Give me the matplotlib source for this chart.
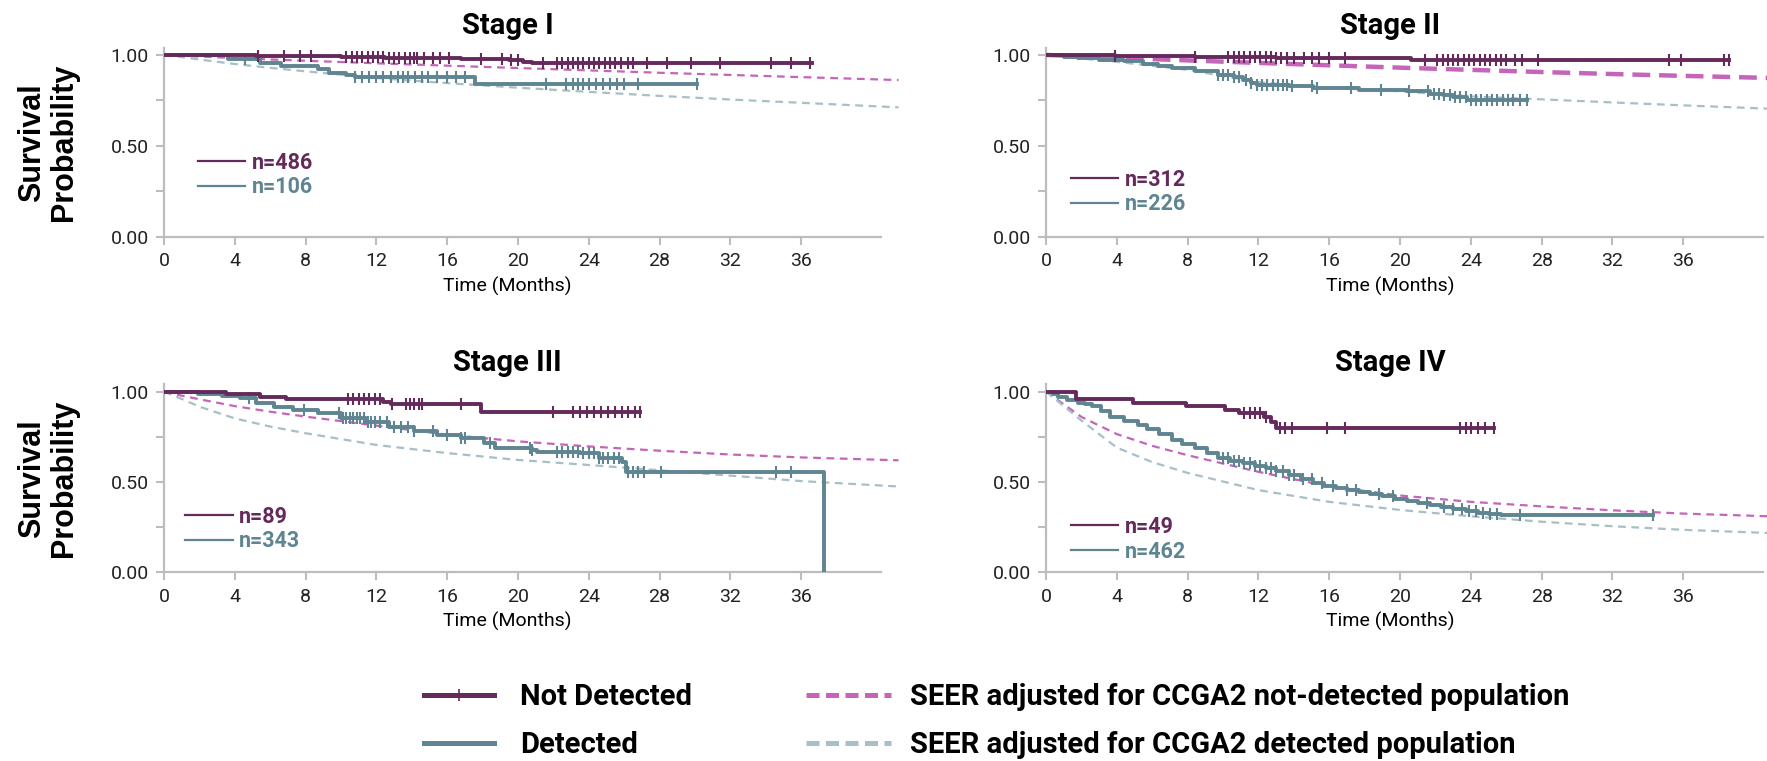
import numpy as np
import matplotlib
matplotlib.use("Agg")
import matplotlib.pyplot as plt
from matplotlib.lines import Line2D

plt.rcParams['font.family'] = ['Roboto', 'DejaVu Sans']

# colours
c_nd = '#652a5c'
c_d = '#5e8591'
c_seer_nd = '#c565b9'
c_seer_d = '#a7bfc6'

titles = ['Stage I', 'Stage II', 'Stage III', 'Stage IV']
n_labels = [['n=486', 'n=106'], ['n=312', 'n=226'], ['n=89', 'n=343'], ['n=49', 'n=462']]

# --- Kaplan-Meier step data (months, survival) ---
t_nd1 = [0, 5.2, 8.0, 10.0, 12.5, 16.8, 17.5, 19.5, 20.3, 20.8, 36.6]
s_nd1 = [1.0, 0.996, 0.993, 0.989, 0.985, 0.98, 0.975, 0.97, 0.963, 0.957, 0.957]
cens_nd1 = [5.3, 6.8, 7.7, 8.3, 10.3, 10.6, 10.9, 11.2, 11.5, 11.8, 12.1, 12.4, 12.7, 13.0,
            13.3, 13.6, 13.9, 14.1, 14.3, 14.7, 15.2, 15.6, 16.1, 17.9, 19.1, 19.6, 20.0, 21.4,
            22.2, 22.5, 22.8, 23.1, 23.4, 23.7, 24.0, 24.3, 24.6, 24.9, 25.2, 25.5, 25.8, 26.2,
            26.5, 27.3, 28.4, 29.8, 31.4, 34.3, 35.4, 36.5]
t_d1 = [0, 3.6, 5.4, 6.6, 8.7, 9.3, 10.3, 10.8, 17.6, 30.1]
s_d1 = [1.0, 0.976, 0.955, 0.94, 0.922, 0.903, 0.89, 0.876, 0.84, 0.84]
cens_d1 = [4.6, 10.8, 11.2, 11.6, 12.0, 12.4, 12.8, 13.2, 13.5, 13.8, 14.2, 14.6, 14.9, 15.4,
           16.0, 16.5, 17.0, 21.6, 22.7, 23.1, 23.4, 23.7, 24.0, 24.4, 24.8, 25.2, 25.6, 26.0,
           26.8, 30.1]

t_nd2 = [0, 3.9, 8.4, 13.0, 20.4, 20.6, 38.6]
s_nd2 = [1.0, 0.995, 0.99, 0.985, 0.982, 0.97, 0.97]
cens_nd2 = [3.9, 8.4, 10.3, 10.6, 10.9, 11.2, 11.5, 11.8, 12.1, 12.4, 12.7, 13.0, 13.3, 13.6,
            14.0, 14.6, 15.0, 15.4, 16.0, 16.9, 21.4, 22.1, 22.4, 22.7, 23.0, 23.3, 23.6, 23.9,
            24.2, 24.5, 24.8, 25.1, 25.4, 25.7, 26.0, 26.5, 26.9, 27.8, 35.2, 35.9, 38.3, 38.6]
t_d2 = [0, 1.0, 1.8, 3.0, 4.4, 5.5, 6.3, 7.1, 8.4, 9.7, 10.6, 11.1, 11.6, 11.9, 13.7, 15.1,
        17.7, 20.4, 21.7, 22.4, 23.0, 23.8, 27.2]
s_d2 = [1.0, 0.99, 0.982, 0.972, 0.964, 0.952, 0.94, 0.928, 0.91, 0.89, 0.878, 0.864, 0.848,
        0.837, 0.832, 0.82, 0.81, 0.80, 0.788, 0.778, 0.768, 0.755, 0.755]
cens_d2 = [9.7, 10.0, 10.3, 10.6, 10.9, 11.3, 11.6, 11.9, 12.2, 12.5, 12.8, 13.1, 13.4, 13.6,
           13.9, 15.0, 15.3, 17.2, 18.9, 20.5, 21.6, 21.9, 22.2, 22.5, 22.8, 23.1, 23.4, 23.7,
           24.0, 24.3, 24.6, 24.9, 25.2, 25.5, 25.8, 26.1, 26.4, 26.8, 27.2]

t_nd3 = [0, 3.5, 5.4, 6.9, 12.4, 12.8, 17.9, 26.9]
s_nd3 = [1.0, 0.985, 0.972, 0.959, 0.945, 0.93, 0.889, 0.889]
cens_nd3 = [10.4, 10.7, 11.0, 11.3, 11.6, 11.9, 12.2, 12.9, 13.7, 13.9, 14.1, 14.4, 14.6, 16.8,
            22.0, 23.1, 23.5, 23.9, 24.3, 24.7, 25.1, 25.5, 25.9, 26.2, 26.6, 26.9]
t_d3 = [0, 1.9, 3.3, 4.3, 5.2, 6.2, 7.3, 8.7, 10.0, 11.4, 12.7, 14.1, 15.4, 16.8, 18.1, 18.7,
        20.8, 21.1, 23.5, 24.6, 25.9, 26.1, 37.3]
s_d3 = [1.0, 0.987, 0.978, 0.963, 0.94, 0.915, 0.898, 0.88, 0.855, 0.833, 0.806, 0.78, 0.762,
        0.742, 0.715, 0.69, 0.678, 0.668, 0.658, 0.632, 0.612, 0.556, 0.0]
cens_d3 = [4.8, 7.9, 9.9, 10.1, 10.3, 10.5, 10.7, 10.9, 11.1, 11.3, 11.5, 11.7, 11.9, 12.2, 12.6,
           13.0, 13.4, 13.8, 14.1, 15.2, 16.0, 16.8, 17.0, 18.4, 20.7, 20.8, 22.2, 22.5, 22.8,
           23.1, 23.4, 23.7, 24.0, 24.3, 24.6, 24.8, 25.1, 25.4, 25.7, 26.2, 26.5, 26.8, 27.1,
           28.1, 34.6, 35.4]

t_nd4 = [0, 1.7, 4.9, 7.9, 10.1, 10.9, 12.3, 12.7, 13.0, 25.3]
s_nd4 = [1.0, 0.96, 0.94, 0.92, 0.90, 0.88, 0.86, 0.83, 0.80, 0.80]
cens_nd4 = [11.2, 11.5, 11.8, 12.1, 12.4, 13.2, 13.5, 13.9, 15.9, 16.9, 23.4, 23.7, 24.0, 24.4,
            24.8, 25.3]
t_d4 = [0, 0.4, 0.7, 1.2, 1.8, 2.2, 2.6, 3.1, 3.6, 4.4, 5.2, 5.7, 6.4, 7.1, 7.7, 8.4, 9.1, 9.7,
        10.4, 11.1, 11.8, 12.4, 13.0, 13.7, 14.4, 15.1, 15.7, 16.4, 17.0, 17.7, 18.3, 19.0,
        19.7, 20.4, 21.0, 21.7, 22.3, 23.0, 23.7, 24.4, 25.0, 25.7, 34.3]
s_d4 = [1.0, 0.985, 0.972, 0.955, 0.94, 0.93, 0.92, 0.895, 0.86, 0.835, 0.815, 0.795, 0.765,
        0.73, 0.712, 0.688, 0.66, 0.635, 0.615, 0.603, 0.59, 0.578, 0.56, 0.54, 0.518, 0.495,
        0.48, 0.465, 0.455, 0.445, 0.432, 0.42, 0.405, 0.393, 0.383, 0.372, 0.36, 0.35, 0.338,
        0.328, 0.32, 0.315, 0.315]
cens_d4 = [10.0, 10.3, 10.6, 10.9, 11.2, 11.5, 11.8, 12.1, 12.4, 12.7, 13.0, 13.4, 13.7, 14.0,
           14.5, 15.0, 15.6, 16.2, 17.0, 17.5, 18.8, 19.6, 21.5, 22.5, 23.0, 23.5, 23.9, 24.3,
           24.7, 25.1, 25.5, 26.8, 34.3]

# --- SEER expected survival curves ---
t_seer = [0, 1, 2, 4, 6, 8, 12, 16, 20, 24, 28, 32, 36, 41.5]
seer_nd1 = [1, 0.996, 0.991, 0.983, 0.975, 0.968, 0.954, 0.941, 0.928, 0.915, 0.902, 0.89, 0.878, 0.862]
seer_d1 = [1, 0.988, 0.975, 0.95, 0.929, 0.91, 0.873, 0.845, 0.82, 0.797, 0.775, 0.755, 0.737, 0.712]
seer_nd2 = [1, 0.996, 0.992, 0.985, 0.977, 0.97, 0.956, 0.943, 0.93, 0.918, 0.906, 0.895, 0.885, 0.872]
seer_d2 = [1, 0.99, 0.98, 0.962, 0.94, 0.918, 0.85, 0.82, 0.8, 0.772, 0.756, 0.739, 0.723, 0.702]
seer_nd3 = [1, 0.978, 0.958, 0.92, 0.889, 0.862, 0.812, 0.762, 0.725, 0.697, 0.673, 0.652, 0.636, 0.62]
seer_d3 = [1, 0.96, 0.917, 0.852, 0.807, 0.77, 0.705, 0.66, 0.622, 0.594, 0.565, 0.535, 0.505, 0.475]
seer_nd4 = [1, 0.93, 0.86, 0.765, 0.70, 0.648, 0.556, 0.475, 0.425, 0.39, 0.365, 0.343, 0.325, 0.308]
seer_d4 = [1, 0.92, 0.84, 0.69, 0.61, 0.55, 0.455, 0.39, 0.345, 0.31, 0.28, 0.255, 0.235, 0.215]

stages = [
    (t_nd1, s_nd1, cens_nd1, t_d1, s_d1, cens_d1, seer_nd1, seer_d1),
    (t_nd2, s_nd2, cens_nd2, t_d2, s_d2, cens_d2, seer_nd2, seer_d2),
    (t_nd3, s_nd3, cens_nd3, t_d3, s_d3, cens_d3, seer_nd3, seer_d3),
    (t_nd4, s_nd4, cens_nd4, t_d4, s_d4, cens_d4, seer_nd4, seer_d4),
]


def surv_at(times, surv, t):
    idx = np.searchsorted(times, t, side='right') - 1
    return np.asarray(surv)[idx]


fig = plt.figure(figsize=(17.67, 7.61), dpi=100)
positions = [[0.0928, 0.6886, 0.4157, 0.2488], [0.592, 0.6886, 0.4157, 0.2488],
             [0.0928, 0.248, 0.4157, 0.2468], [0.592, 0.248, 0.4157, 0.2468]]
legend_anchor = [(0.046, 0.45), (0.034, 0.36), (0.029, 0.355), (0.034, 0.30)]
grey = '#bdbdbd'

for i, (tn, sn, cn, td, sd, cd, pn, pd_) in enumerate(stages):
    ax = fig.add_axes(positions[i])
    thick = i == 1
    ax.plot(t_seer, pn, color=c_seer_nd, lw=3.2 if thick else 1.6,
            dashes=(4, 2) if thick else (3.5, 2.5), zorder=2)
    ax.plot(t_seer, pd_, color=c_seer_d, lw=1.6, dashes=(3.5, 2.5), zorder=2)
    ax.plot(td, sd, drawstyle='steps-post', color=c_d, lw=2.8, zorder=3)
    ax.plot(cd, surv_at(td, sd, cd), ls='none', marker='|', ms=8, mew=1.5, color=c_d, zorder=3)
    ax.plot(tn, sn, drawstyle='steps-post', color=c_nd, lw=2.8, zorder=4)
    ax.plot(cn, surv_at(tn, sn, cn), ls='none', marker='|', ms=8, mew=1.5, color=c_nd, zorder=4)

    ax.set_xlim(0, 41.5)
    ax.set_ylim(0, 1.04)
    ax.set_xticks(np.arange(0, 37, 4))
    ax.set_yticks([0, 0.5, 1.0])
    ax.set_yticklabels(['0.00', '0.50', '1.00'])
    ax.set_yticks([0.25, 0.75], minor=True)
    for s in ['top', 'right']:
        ax.spines[s].set_visible(False)
    for s in ['left', 'bottom']:
        ax.spines[s].set_color(grey)
        ax.spines[s].set_linewidth(1.6)
    ax.spines['bottom'].set_bounds(0, 40.5)
    ax.tick_params(which='both', color=grey, length=6, width=1.5, labelsize=14,
                   labelcolor='#222222', pad=5)

    ax.set_title(titles[i], fontsize=21, fontweight='bold', x=0.468, pad=10)
    ax.set_xlabel('Time (Months)', fontsize=14)
    ax.xaxis.set_label_coords(0.468, -0.21)
    if i % 2 == 0:
        ax.text(-0.158, 0.5, 'Survival\nProbability', transform=ax.transAxes, rotation=90,
                ha='center', va='center', ma='center', fontsize=22, fontweight='bold',
                family=['Liberation Sans', 'DejaVu Sans'], linespacing=1.1)

    h = [Line2D([], [], color=c_nd, lw=1.6), Line2D([], [], color=c_d, lw=1.6)]
    ax.legend(h, n_labels[i], loc='upper left', bbox_to_anchor=legend_anchor[i],
              frameon=False, borderpad=0, borderaxespad=0, handlelength=2.2,
              handletextpad=0.3, labelspacing=0.12, labelcolor='linecolor',
              prop={'size': 15.5, 'weight': 'bold'})

handles_km = [Line2D([], [], color=c_nd, lw=3.6, marker='|', ms=9, mew=1.2),
              Line2D([], [], color=c_d, lw=3.6)]
handles_seer = [Line2D([], [], color=c_seer_nd, lw=3.6, dashes=(2.6, 1.3)),
                Line2D([], [], color=c_seer_d, lw=3.6, dashes=(2.6, 1.3))]
labels_km = ['Not Detected', 'Detected']
labels_seer = ['SEER adjusted for CCGA2 not-detected population',
               'SEER adjusted for CCGA2 detected population']
common = dict(loc='upper left', frameon=False, borderpad=0, borderaxespad=0,
              labelspacing=0.7, prop={'size': 21, 'weight': 'bold'})
fig.legend(handles_km, labels_km, bbox_to_anchor=(424 / 1767, 1 - 683 / 761),
           handlelength=2.4, handletextpad=0.9, **common)
fig.legend(handles_seer, labels_seer, bbox_to_anchor=(806 / 1767, 1 - 683 / 761),
           handlelength=2.9, handletextpad=0.65, **common)

fig.savefig('out.png', dpi=100)
